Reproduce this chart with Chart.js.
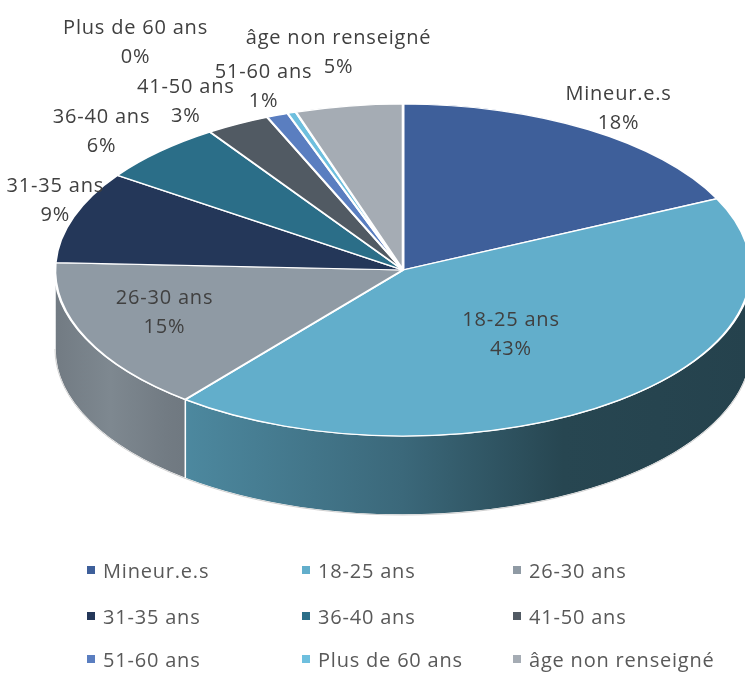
<!DOCTYPE html>
<html lang="fr">
<head>
<meta charset="utf-8">
<title>Répartition par âge</title>
<script src="https://cdn.jsdelivr.net/npm/chart.js@4.4.0/dist/chart.umd.min.js"></script>
<style>
  html, body { margin: 0; padding: 0; background: #fff; }
  body { width: 745px; height: 673px; overflow: hidden; position: relative; font-family: 'Open Sans', sans-serif; }
  #pie { position: absolute; left: 0; top: 0; }
  #legend {
    position: absolute; left: 87px; top: 546px;
    display: grid; grid-template-columns: 215px 211px 232px; grid-template-rows: 48px 44px 42px;
    color: #595959; font-size: 20px; letter-spacing: 0.8px;
  }
  #legend .item { display: flex; align-items: center; white-space: nowrap; }
  #legend .item i { display: inline-block; width: 8px; height: 8px; margin-right: 8px; }
</style>
</head>
<body>
<canvas id="pie" width="745" height="673"></canvas>
<div id="legend"></div>
<script>
// Répartition des personnes par tranche d'âge (%)
const ageGroups = ['Mineur.e.s', '18-25 ans', '26-30 ans', '31-35 ans', '36-40 ans',
  '41-50 ans', '51-60 ans', 'Plus de 60 ans', 'âge non renseigné'];
const shares = [18, 43, 15, 9, 6, 3, 1, 0.4, 5];
const sliceColors = ['#3e5f9a', '#62aecb', '#8f9aa4', '#243759', '#2b6e88',
  '#515a63', '#5a7ec0', '#6ebfde', '#a5acb4'];

// camembert incliné : centre, rayons de l'ellipse et épaisseur
const pie3d = { cx: 403, cy: 270, rx: 348, ry: 166, depth: 79 };

// position des étiquettes : facteur radial puis petit décalage
const labelPlacement = [
  { f: 1.16, dx: 0, dy: 2 },
  { f: 0.5, dx: 0, dy: 0 },
  { f: 0.68, dx: -23, dy: -4 },
  { f: 1.1, dx: 15, dy: -11 },
  { f: 1.2, dx: -9, dy: 4 },
  { f: 1.17, dx: -24, dy: 3 },
  { f: 1.19, dx: 10, dy: 1 },
  { f: 1.46, dx: -105, dy: 2 },
  { f: 1.3, dx: 6, dy: -4 }
];

// éclairage de la tranche, de gauche à droite
const sideLight = [[0, 0.8], [0.08, 0.88], [0.16, 0.8], [0.5, 0.6], [0.73, 0.4], [1, 0.38]];

function shade(hex, k) {
  const n = parseInt(hex.slice(1), 16);
  const r = Math.round(((n >> 16) & 255) * k);
  const g = Math.round(((n >> 8) & 255) * k);
  const b = Math.round((n & 255) * k);
  return `rgb(${r},${g},${b})`;
}

const tiltPlugin = {
  id: 'tilt',
  beforeDatasetsDraw(chart) {
    const ctx = chart.ctx;
    const arcs = chart.getDatasetMeta(0).data;
    const { cx, cy, rx, ry, depth } = pie3d;

    // tranche visible (moitié avant)
    arcs.forEach((arc, i) => {
      const a = Math.max(arc.startAngle, 0);
      const b = Math.min(arc.endAngle, Math.PI);
      if (b <= a) return;
      const grad = ctx.createLinearGradient(cx - rx, 0, cx + rx, 0);
      sideLight.forEach(([t, k]) => grad.addColorStop(t, shade(sliceColors[i], k)));
      ctx.beginPath();
      ctx.ellipse(cx, cy, rx, ry, 0, a, b);
      ctx.ellipse(cx, cy + depth, rx, ry, 0, b, a, true);
      ctx.closePath();
      ctx.fillStyle = grad;
      ctx.fill();
      ctx.strokeStyle = '#ffffff';
      ctx.lineWidth = 1.5;
      ctx.stroke();
    });
    ctx.beginPath();
    ctx.ellipse(cx, cy + depth, rx, ry, 0, 0, Math.PI);
    ctx.strokeStyle = '#d0d0d0';
    ctx.lineWidth = 1;
    ctx.stroke();

    // le disque de Chart.js est aplati sur la face supérieure
    const { x, y, outerRadius } = arcs[0];
    ctx.save();
    ctx.translate(cx, cy);
    ctx.scale(rx / outerRadius, ry / outerRadius);
    ctx.translate(-x, -y);
  },
  afterDatasetsDraw(chart) {
    chart.ctx.restore();
  },
  afterDraw(chart) {
    const ctx = chart.ctx;
    const arcs = chart.getDatasetMeta(0).data;
    const { cx, cy, rx, ry } = pie3d;
    const total = shares.reduce((s, v) => s + v, 0);
    ctx.save();
    ctx.font = '20px "Open Sans"';
    ctx.letterSpacing = '0.8px';
    ctx.fillStyle = '#404040';
    ctx.textAlign = 'center';
    ctx.textBaseline = 'middle';
    arcs.forEach((arc, i) => {
      const mid = (arc.startAngle + arc.endAngle) / 2;
      const p = labelPlacement[i];
      const lx = cx + rx * p.f * Math.cos(mid) + p.dx;
      const ly = cy + ry * p.f * Math.sin(mid) + p.dy;
      ctx.fillText(ageGroups[i], lx, ly - 14.5);
      ctx.fillText(Math.round(shares[i] / total * 100) + '%', lx, ly + 14.5);
    });
    ctx.restore();
  }
};

const chart = new Chart(document.getElementById('pie').getContext('2d'), {
  type: 'pie',
  data: {
    labels: ageGroups,
    datasets: [{
      data: shares,
      backgroundColor: sliceColors,
      borderColor: '#ffffff',
      borderWidth: 2.5,
      clip: false
    }]
  },
  options: {
    responsive: false,
    animation: false,
    events: [],
    plugins: {
      legend: { display: false },
      tooltip: { enabled: false }
    }
  },
  plugins: [tiltPlugin]
});

// légende en trois colonnes
const legendBox = document.getElementById('legend');
chart.data.labels.forEach((label, i) => {
  const item = document.createElement('span');
  item.className = 'item';
  const mark = document.createElement('i');
  mark.style.background = chart.data.datasets[0].backgroundColor[i];
  item.appendChild(mark);
  item.appendChild(document.createTextNode(label));
  legendBox.appendChild(item);
});
</script>
</body>
</html>
